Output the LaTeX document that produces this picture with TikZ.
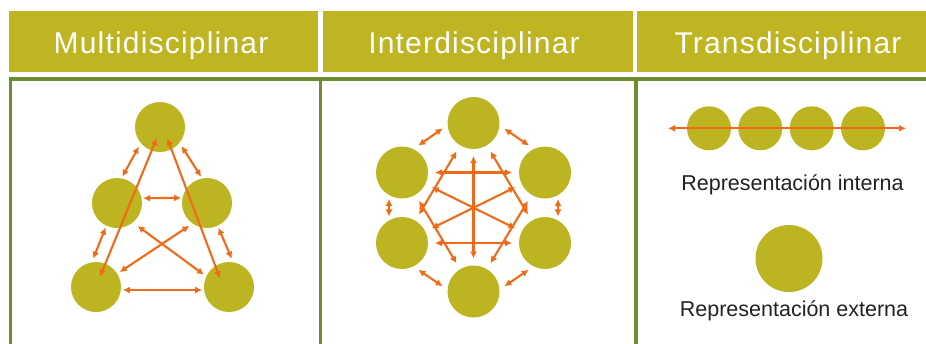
\documentclass[tikz,border=0pt]{standalone}
\usepackage{fontspec}
\setmainfont{Liberation Sans}
\newfontfamily\headfont[LetterSpace=4]{Liberation Sans}
\usetikzlibrary{arrows.meta,calc}
\definecolor{olivehead}{HTML}{BFB522}
\definecolor{oliveball}{HTML}{BDB421}
\definecolor{framegreen}{HTML}{6E8D30}
\definecolor{arroworange}{HTML}{F06A18}
\definecolor{labeltext}{HTML}{222222}
\begin{document}
\begin{tikzpicture}[x=1pt,y=-1pt,
  ball/.style={circle,fill=oliveball,draw=none,inner sep=0pt,outer sep=0pt,minimum size=#1},
  headbox/.style={fill=olivehead,draw=none},
  headtext/.style={text=white,font=\headfont\fontsize{30}{32}\selectfont,anchor=base,inner sep=0pt},
  frameline/.style={draw=framegreen,line width=3.5pt},
  link/.style={draw=arroworange,line width=2.1pt,{Latex[length=7pt,width=7pt]}-{Latex[length=7pt,width=7pt]}},
  note/.style={text=labeltext,font=\fontsize{21.5}{24}\selectfont,anchor=base,inner sep=0pt}]
\useasboundingbox (0,0) rectangle (926,343);
\clip (0,0) rectangle (926,343);
% headers
\fill[headbox] (9,11) rectangle (318,72);
\fill[headbox] (323,11) rectangle (633,72);
\fill[headbox] (637,11) rectangle (935,72);
\node[headtext] (h1) at (161,53) {Multidisciplinar};
\node[headtext] (h2) at (474,53) {Interdisciplinar};
\node[headtext] (h3) at (788,53) {Transdisciplinar};
% frame
\draw[frameline] (10.5,350) -- (10.5,79) -- (935,79);
\draw[frameline] (320.5,79) -- (320.5,350);
\draw[frameline] (636,79) -- (636,350);
% multidisciplinar
\node[ball=50pt] (mT) at (160,127) {};
\node[ball=50pt] (mML) at (117,203) {};
\node[ball=50pt] (mMR) at (207,203) {};
\node[ball=50pt] (mBL) at (96,287) {};
\node[ball=50pt] (mBR) at (229,287) {};
\draw[link,shorten <=4pt,shorten >=2pt] (mT.220.5) -- (mML.80.5);
\draw[link,shorten <=4pt,shorten >=2pt] (mT.321.7) -- (mMR.101.7);
\draw[link,shorten <=1.5pt,shorten >=1.5pt] (mML.11.5) -- (mMR.168.5);
\draw[link,shorten <=2pt,shorten >=4pt] (mML.245) -- (mBL.100);
\draw[link,shorten <=2pt,shorten >=4pt] (mMR.295) -- (mBR.80);
\draw[link,line width=2.8pt,shorten <=2pt,shorten >=2pt] (mBL.-7) -- (mBR.187);
\draw[link,shorten <=6pt,shorten >=3pt] (mML.-51) -- (mBR.155);
\draw[link,shorten <=4pt,shorten >=3pt] (mMR.235) -- (mBL.32);
\draw[link] ($(mT.center)+(-3.3,11.3)$) -- ($(mBL.center)+(4,-10.3)$);
\draw[link] ($(mT.center)+(7.3,11.3)$) -- ($(mBR.center)+(-9,-8.7)$);
% interdisciplinar
\node[ball=52pt] (iT) at (473.5,123) {};
\node[ball=52pt] (iUL) at (402,172.5) {};
\node[ball=52pt] (iUR) at (545,172.5) {};
\node[ball=52pt] (iLL) at (402,243) {};
\node[ball=52pt] (iLR) at (545,243) {};
\node[ball=52pt] (iB) at (473.5,291.5) {};
\draw[link,shorten <=6pt,shorten >=6pt] (iT.184.5) -- (iUL.64.5);
\draw[link,shorten <=6pt,shorten >=6pt] (iT.355.5) -- (iUR.115.5);
\draw[link,shorten <=4pt,shorten >=4pt] (iUL.240) -- (iLL.120);
\draw[link,shorten <=4pt,shorten >=4pt] (iUR.300) -- (iLR.60);
\draw[link,shorten <=6pt,shorten >=6pt] (iLL.296) -- (iB.176);
\draw[link,shorten <=6pt,shorten >=6pt] (iLR.244) -- (iB.4);
\begin{scope}[shorten <=7pt,shorten >=7pt]
\draw[link] (iUL) -- (iUR);
\draw[link] (iLL) -- (iLR);
\draw[link] (iT) -- (iB);
\draw[link] (iUL) -- (iLR);
\draw[link] (iLL) -- (iUR);
\draw[link] (iT) -- (iLL);
\draw[link] (iT) -- (iLR);
\draw[link] (iB) -- (iUL);
\draw[link] (iB) -- (iUR);
\end{scope}
% transdisciplinar
\node[ball=44pt] (tA) at (709,128.3) {};
\node[ball=44pt] (tB) at (760.3,128.3) {};
\node[ball=44pt] (tC) at (811.7,128.3) {};
\node[ball=44pt] (tD) at (863,128.3) {};
\coordinate (tl) at (668,128.3);
\coordinate (tr) at (906,128.3);
\draw[link,line width=2.3pt] (tl) -- (tr);
\node[note] (n1) at (792.5,190) {Representación interna};
\node[ball=67pt] (tE) at (789,258.5) {};
\node[note] (n2) at (794,316.5) {Representación externa};
\end{tikzpicture}
\end{document}
